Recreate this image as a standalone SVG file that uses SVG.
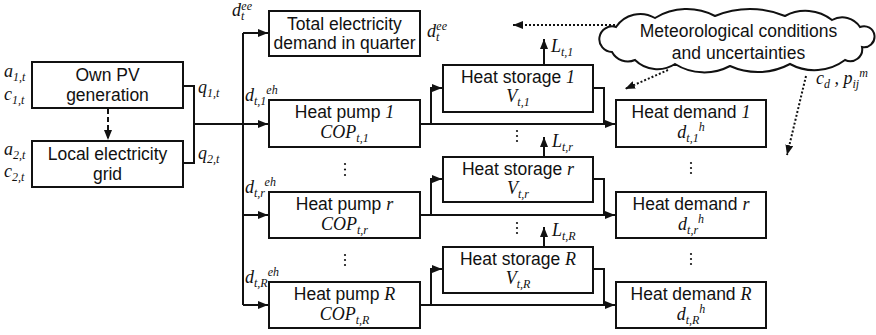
<svg xmlns="http://www.w3.org/2000/svg" width="876" height="335" viewBox="0 0 876 335">
<style>
.box{fill:#fff;stroke:#111;stroke-width:2}
.ln{fill:none;stroke:#111;stroke-width:2}
.dot{fill:none;stroke:#111;stroke-width:2;stroke-dasharray:2 2}
.t{font-family:"Liberation Sans",Arial,sans-serif;font-size:17.5px;fill:#111}
.m{font-family:"Liberation Serif","Times New Roman",serif;font-style:italic;font-size:18px;fill:#111}
.s{font-size:12px}
.c{text-anchor:middle}
.d{fill:#111}
</style>
<defs>
<marker id="ah" markerUnits="userSpaceOnUse" markerWidth="10" markerHeight="8" refX="10" refY="4" orient="auto">
<path d="M0,0 L10,4 L0,8 z" fill="#111"/>
</marker>
</defs>
<rect width="876" height="335" fill="#fff"/>
<g id="connectors">
<path class="ln" d="M183,86 H194 V163 H183"/>
<path class="ln" d="M194,124 H268" marker-end="url(#ah)"/>
<path class="ln" d="M243,33 V305"/>
<path class="ln" d="M243,33 H268" marker-end="url(#ah)"/>
<path class="ln" d="M243,215 H268" marker-end="url(#ah)"/>
<path class="ln" d="M243,305 H268" marker-end="url(#ah)"/>
<path class="ln" d="M108,109 V140" stroke-dasharray="5 3" marker-end="url(#ah)"/>
<path class="ln" d="M420,124 H615" marker-end="url(#ah)"/>
<path class="ln" d="M431,124 V88 H442" marker-end="url(#ah)"/>
<path class="ln" d="M593,88 H604 V124"/>
<path class="ln" d="M420,215 H615" marker-end="url(#ah)"/>
<path class="ln" d="M431,215 V179 H442" marker-end="url(#ah)"/>
<path class="ln" d="M593,179 H604 V215"/>
<path class="ln" d="M420,305 H615" marker-end="url(#ah)"/>
<path class="ln" d="M431,305 V269 H442" marker-end="url(#ah)"/>
<path class="ln" d="M593,269 H604 V305"/>
<path class="ln" d="M544,65 V39" marker-end="url(#ah)"/>
<path class="ln" d="M544,157 V137" marker-end="url(#ah)"/>
<path class="ln" d="M544,247 V227" marker-end="url(#ah)"/>
<path class="dot" d="M615,25 H513" marker-end="url(#ah)"/>
<path class="dot" d="M668,70 L625,89" marker-end="url(#ah)"/>
<path class="dot" d="M806,76 L787,155" marker-end="url(#ah)"/>
</g>
<g id="pv"><rect class="box" x="32" y="62" width="151" height="46"/>
<text class="t c" x="107.5" y="81">Own PV</text><text class="t c" x="107.5" y="101">generation</text></g>
<g id="grid"><rect class="box" x="32" y="141" width="151" height="46"/>
<text class="t c" x="107.5" y="160">Local electricity</text><text class="t c" x="107.5" y="180">grid</text></g>
<g id="total"><rect class="box" x="269" y="11" width="151" height="45"/>
<text class="t c" x="344.5" y="30">Total electricity</text><text class="t c" x="344.5" y="49">demand in quarter</text></g>
<g id="hp1"><rect class="box" x="269" y="100" width="151" height="47"/>
<text class="t c" x="344.5" y="118">Heat pump <tspan class="m">1</tspan></text>
<text class="m c" x="344.5" y="138">COP<tspan class="s" dy="4">t,1</tspan></text></g>
<g id="hpr"><rect class="box" x="269" y="192" width="151" height="46"/>
<text class="t c" x="344.5" y="210">Heat pump <tspan class="m">r</tspan></text>
<text class="m c" x="344.5" y="230">COP<tspan class="s" dy="4">t,r</tspan></text></g>
<g id="hpR"><rect class="box" x="269" y="282" width="151" height="46"/>
<text class="t c" x="344.5" y="300">Heat pump <tspan class="m">R</tspan></text>
<text class="m c" x="344.5" y="320">COP<tspan class="s" dy="4">t,R</tspan></text></g>
<g id="hs1"><rect class="box" x="443" y="65" width="150" height="47"/>
<text class="t c" x="518" y="83">Heat storage <tspan class="m">1</tspan></text>
<text class="m c" x="518" y="102">V<tspan class="s" dy="4">t,1</tspan></text></g>
<g id="hsr"><rect class="box" x="443" y="157" width="150" height="45"/>
<text class="t c" x="518" y="175">Heat storage <tspan class="m">r</tspan></text>
<text class="m c" x="518" y="194">V<tspan class="s" dy="4">t,r</tspan></text></g>
<g id="hsR"><rect class="box" x="443" y="247" width="150" height="46"/>
<text class="t c" x="518" y="265">Heat storage <tspan class="m">R</tspan></text>
<text class="m c" x="518" y="284">V<tspan class="s" dy="4">t,R</tspan></text></g>
<g id="hd1"><rect class="box" x="616" y="100" width="150" height="47"/>
<text class="t c" x="691" y="118">Heat demand <tspan class="m">1</tspan></text>
<text class="m c" x="691" y="138">d<tspan class="s" dy="4">t,1</tspan><tspan class="s" dy="-11">h</tspan></text></g>
<g id="hdr"><rect class="box" x="616" y="192" width="150" height="46"/>
<text class="t c" x="691" y="210">Heat demand <tspan class="m">r</tspan></text>
<text class="m c" x="691" y="230">d<tspan class="s" dy="4">t,r</tspan><tspan class="s" dy="-11">h</tspan></text></g>
<g id="hdR"><rect class="box" x="616" y="282" width="150" height="46"/>
<text class="t c" x="691" y="300">Heat demand <tspan class="m">R</tspan></text>
<text class="m c" x="691" y="320">d<tspan class="s" dy="4">t,R</tspan><tspan class="s" dy="-11">h</tspan></text></g>
<g id="cloud">
<path class="box" d="M616,27 A29,29 0 0 1 655,18 A61,61 0 0 1 715,16 A91,91 0 0 1 785,16 A43,43 0 0 1 832,20 A21,21 0 0 1 860,27 A10.5,10.5 0 1 1 862,47 A12,12 0 0 1 845,60 A51,51 0 0 1 790,64 A68,68 0 0 1 730,66 A55,55 0 0 1 675,64 A32,32 0 0 1 635,60 A18,18 0 0 1 612,52 A12.8,12.8 0 1 1 616,27 Z"/>
<text class="t c" x="738.5" y="37">Meteorological conditions</text>
<text class="t c" x="738.5" y="59">and uncertainties</text>
</g>
<g id="labels">
<text class="m" x="4" y="77">a<tspan class="s" dy="4">1,t</tspan></text>
<text class="m" x="4" y="100">c<tspan class="s" dy="4">1,t</tspan></text>
<text class="m" x="4" y="155">a<tspan class="s" dy="4">2,t</tspan></text>
<text class="m" x="4" y="177">c<tspan class="s" dy="4">2,t</tspan></text>
<text class="m" x="198" y="93">q<tspan class="s" dy="4">1,t</tspan></text>
<text class="m" x="198" y="159">q<tspan class="s" dy="4">2,t</tspan></text>
<text class="m" x="232" y="16">d<tspan class="s" dy="4">t</tspan><tspan class="s" dx="-3" dy="-10">ee</tspan></text>
<text class="m" x="427" y="37">d<tspan class="s" dy="4">t</tspan><tspan class="s" dx="-3" dy="-11">ee</tspan></text>
<text class="m" x="245" y="101">d<tspan class="s" dy="4">t,1</tspan><tspan class="s" dy="-11">eh</tspan></text>
<text class="m" x="245" y="193">d<tspan class="s" dy="4">t,r</tspan><tspan class="s" dy="-11">eh</tspan></text>
<text class="m" x="245" y="283">d<tspan class="s" dy="4">t,R</tspan><tspan class="s" dy="-11">eh</tspan></text>
<text class="m" x="551" y="52">L<tspan class="s" dy="4">t,1</tspan></text>
<text class="m" x="552" y="147">L<tspan class="s" dy="4">t,r</tspan></text>
<text class="m" x="552" y="236">L<tspan class="s" dy="4">t,R</tspan></text>
<text class="m" x="816" y="84">c<tspan class="s" dy="4">d</tspan><tspan dy="-4"> , p</tspan><tspan class="s" dy="4">ij</tspan><tspan class="s" dy="-11">m</tspan></text>
</g>
<g id="ellipses" class="d">
<circle cx="345" cy="164" r="1.1"/><circle cx="345" cy="169.5" r="1.1"/><circle cx="345" cy="175" r="1.1"/>
<circle cx="345" cy="255" r="1.1"/><circle cx="345" cy="260" r="1.1"/><circle cx="345" cy="265" r="1.1"/>
<circle cx="517" cy="131" r="1.1"/><circle cx="517" cy="136" r="1.1"/><circle cx="517" cy="141" r="1.1"/>
<circle cx="517" cy="223" r="1.1"/><circle cx="517" cy="228" r="1.1"/><circle cx="517" cy="233" r="1.1"/>
<circle cx="691" cy="163" r="1.1"/><circle cx="691" cy="168" r="1.1"/><circle cx="691" cy="173" r="1.1"/>
<circle cx="691" cy="254" r="1.1"/><circle cx="691" cy="259" r="1.1"/><circle cx="691" cy="264" r="1.1"/>
</g>
</svg>
